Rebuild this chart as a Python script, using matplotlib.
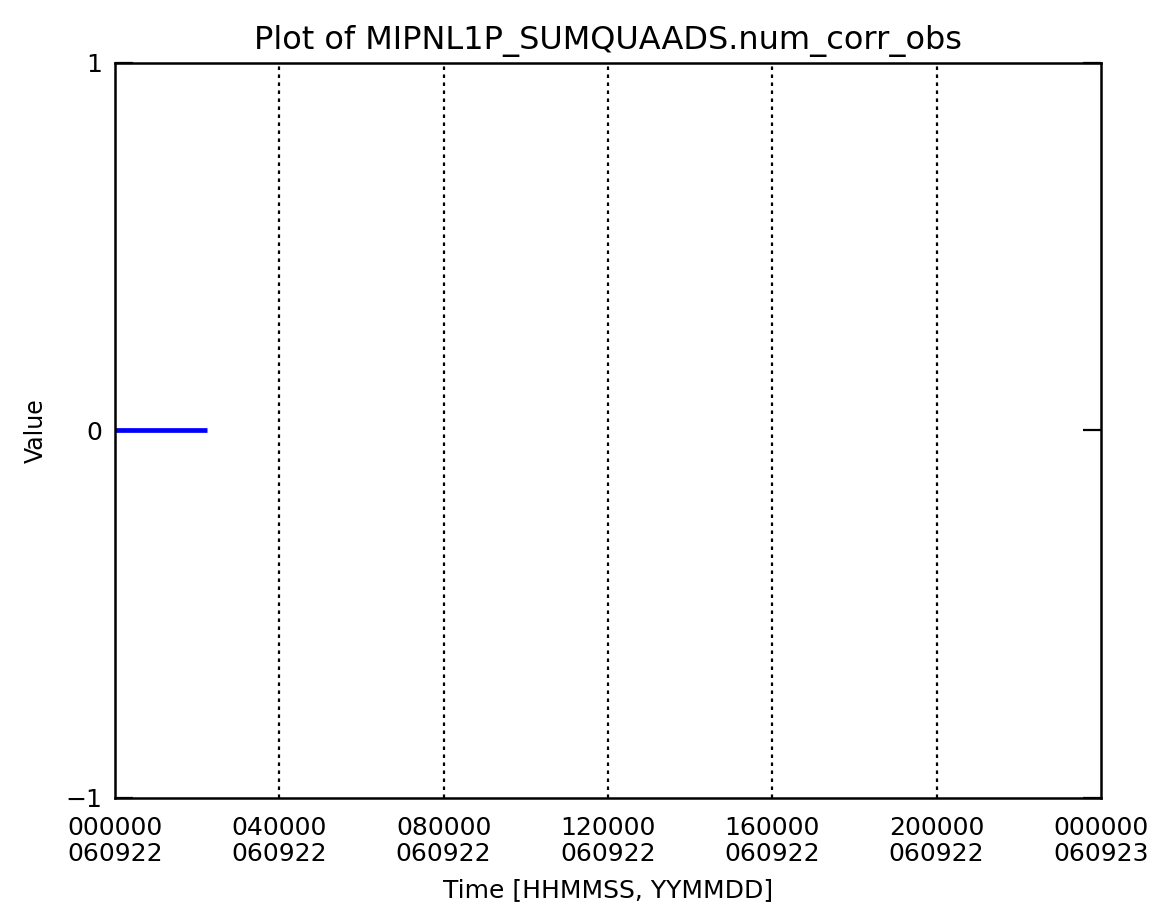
import numpy as np
import matplotlib
matplotlib.use("Agg")
import matplotlib.pyplot as plt

# hours since 2006-09-22 00:00
time_hours = [0.0, 2.25]
values = [0.0, 0.0]

tick_hours = [0, 4, 8, 12, 16, 20, 24]
tick_labels = ['000000\n060922', '040000\n060922', '080000\n060922', '120000\n060922',
               '160000\n060922', '200000\n060922', '000000\n060923']
grid_hours = [4, 8, 12, 16, 20]


def main():
    plt.rcParams['font.family'] = ['DejaVu Sans']
    fig = plt.figure(figsize=(11.6, 9.22), dpi=100)
    ax = fig.add_axes([0.0991, 0.1345, 0.8500, 0.7972])

    for g in grid_hours:
        ax.axvline(g, color='black', linestyle=(0, (1.6, 2.0)), linewidth=1.6)

    ax.plot(time_hours, values, color='#0000ff', linewidth=3.4, solid_capstyle='butt')

    ax.set_xlim(0, 24)
    ax.set_ylim(-1, 1)
    ax.set_xticks(tick_hours)
    ax.set_xticklabels(tick_labels, fontsize=18, linespacing=1.1)
    ax.tick_params(axis='x', length=0, pad=13)
    ax.set_yticks([-1, 0, 1])
    ax.set_yticklabels(['\u22121', '0', '1'], fontsize=18)
    ax.tick_params(axis='y', direction='in', length=13, width=1.6, right=True, pad=9)
    for s in ax.spines.values():
        s.set_linewidth(1.8)

    ax.set_title("Plot of MIPNL1P_SUMQUAADS.num_corr_obs", fontsize=23, pad=10)
    ax.set_xlabel("Time [HHMMSS, YYMMDD]", fontsize=18, labelpad=9)
    ax.set_ylabel("Value", fontsize=17, labelpad=13)

    fig.savefig('out.png', dpi=100)
    plt.close(fig)


if __name__ == "__main__":
    main()
